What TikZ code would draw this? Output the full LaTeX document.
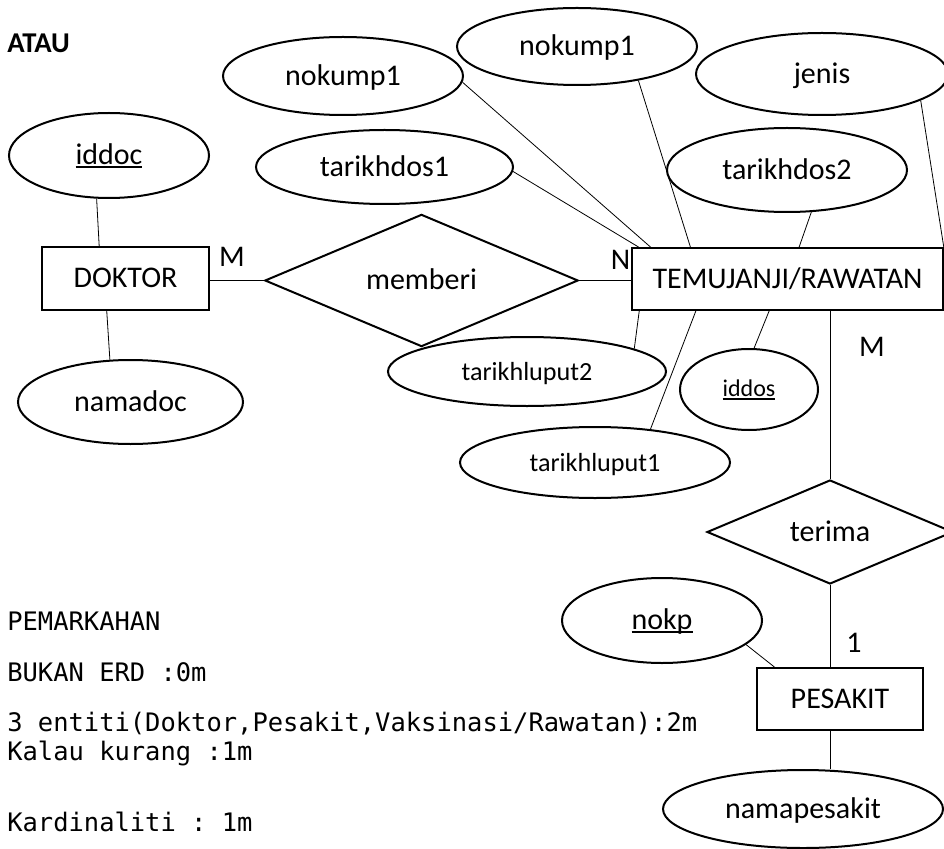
\documentclass[tikz,border=0pt]{standalone}
\usepackage{fontspec}
\setmainfont{Carlito}
\newfontfamily\notefont{DejaVu Sans Mono}
\usetikzlibrary{shapes.geometric}
\newcommand{\keyattr}[1]{\setbox0\hbox{#1}\rlap{\rule[-2.2pt]{\wd0}{1pt}}\box0}
\frenchspacing

\begin{document}
\begin{tikzpicture}[x=0.75pt,y=0.75pt,yscale=-1,xscale=1,
  every node/.style={font=\fontsize{22.5}{27}\selectfont},
  entity/.style={draw,line width=1.5pt,rectangle,inner sep=0pt,text height=15pt,text depth=1pt},
  attr/.style={draw,line width=1.5pt,ellipse,inner sep=0pt,text height=15pt,text depth=1pt},
  rel/.style={draw,line width=1.5pt,diamond,inner sep=0pt,text height=15pt,text depth=1pt},
  card/.style={anchor=base,inner sep=0pt},
  note/.style={anchor=base west,inner sep=0pt,font=\notefont\fontsize{19.1}{23}\selectfont},
  link/.style={line width=0.6pt}]
\useasboundingbox (0,0) rectangle (944,848);

%Shape: Rectangle
\node [entity,minimum width=125.25pt,minimum height=47.25pt] (doktor) at (125.5,278.5) {DOKTOR};
\node [entity,minimum width=233.25pt,minimum height=45.75pt] (temujanji) at (787.5,279) {TEMUJANJI/RAWATAN};
\node [entity,minimum width=124.5pt,minimum height=46.5pt] (pesakit) at (840,699) {PESAKIT};
%Shape: Diamond
\node [rel,minimum width=235pt,minimum height=94pt] (memberi) at (421.5,280.5) {memberi};
\node [rel,minimum width=184.5pt,minimum height=78pt] (terima) at (830,532) {terima};
%Shape: Ellipse
\node [attr,minimum width=150pt,minimum height=63.75pt] (iddoc) at (109,155.5) {\keyattr{iddoc}};
\node [attr,minimum width=168.75pt,minimum height=63pt] (namadoc) at (130.5,402) {namadoc};
\node [attr,minimum width=180pt,minimum height=58.5pt] (nokumpA) at (343,76) {nokump1};
\node [attr,minimum width=180pt,minimum height=57.75pt] (nokumpB) at (577,46.5) {nokump1};
\node [attr,minimum width=189pt,minimum height=61.5pt] (jenis) at (822,74) {jenis};
\node [attr,minimum width=192.75pt,minimum height=55.5pt] (tarikhdosA) at (384.5,167) {tarikhdos1};
\node [attr,minimum width=180pt,minimum height=63pt] (tarikhdosB) at (787,170) {tarikhdos2};
\node [attr,minimum width=208.5pt,minimum height=51.75pt,font=\fontsize{19.6}{23}\selectfont] (tarikhluputB) at (527,371.5) {tarikhluput2};
\node [attr,minimum width=202.5pt,minimum height=53.25pt,font=\fontsize{19.6}{23}\selectfont] (tarikhluputA) at (595,462.5) {tarikhluput1};
\node [attr,minimum width=103.5pt,minimum height=60.75pt,font=\fontsize{18}{22}\selectfont,text height=12pt] (iddos) at (749,389.5) {\keyattr{iddos}};
\node [attr,minimum width=150pt,minimum height=63.75pt] (nokp) at (662,620.5) {\keyattr{nokp}};
\node [attr,minimum width=210pt,minimum height=58.5pt] (namapesakit) at (803,809) {namapesakit};

%Straight Lines
\draw [link] (iddoc.-106) -- (doktor.129);
\draw [link] (doktor.-120) -- (namadoc.116);
\draw [link] (memberi.west) -- (memberi.west -| doktor.east);
\draw [link] (memberi.east) -- (memberi.east -| temujanji.west);
\draw [link] (nokumpA.-3) -- (temujanji.167);
\draw [link] (nokumpB.-29) -- (temujanji.162);
\draw [link] (tarikhdosA.-2) -- (temujanji.168);
\draw [link] (tarikhdosB.-60) -- (temujanji.70);
\draw [link] (jenis.-15) -- (temujanji.11);
\draw [link] (temujanji.-168) -- (tarikhluputB.12);
\draw [link] (temujanji.-161) -- (tarikhluputA.31);
\draw [link] (temujanji.-120) -- (iddos.83);
\draw [link] (terima.north) -- (terima.north |- temujanji.south);
\draw [link] (terima.south) -- (terima.south |- pesakit.north);
\draw [link] (nokp.-16) -- (pesakit.154);
\draw [link] (terima.south |- pesakit.south) -- (terima.south |- namapesakit.north);

% Text Node
\node [card] (cardM1) at (232,267) {M};
\node [card] (cardN) at (620.5,269) {N};
\node [card] (cardM2) at (872,356) {M};
\node [card] (card1) at (854,652) {1};
% Text Node
\node [anchor=base west,inner sep=0pt,font=\bfseries\fontsize{21.5}{26}\selectfont] (atau) at (7,53) {ATAU};
\node [note] (markah) at (7,630) {PEMARKAHAN};
\node [note] (bukan) at (7,681) {BUKAN ERD :0m};
\node [note] (entiti) at (7,731) {3 entiti(Doktor,Pesakit,Vaksinasi/Rawatan):2m};
\node [note] (kurang) at (7,760) {Kalau kurang :1m};
\node [note] (kardinal) at (7,831) {Kardinaliti : 1m};
\end{tikzpicture}
\end{document}
